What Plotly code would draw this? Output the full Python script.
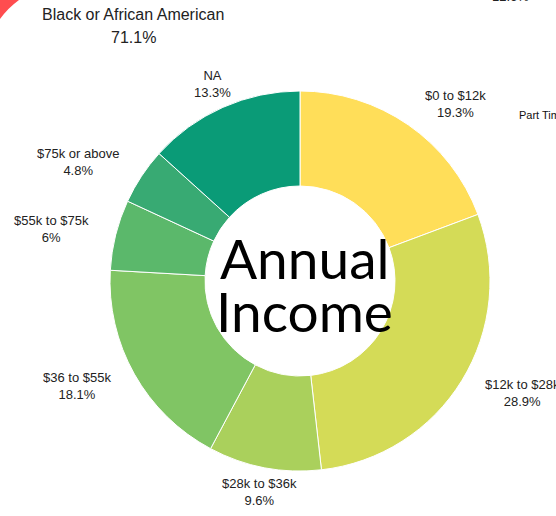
import math
import plotly.graph_objects as go

# Annual income breakdown (share of respondents, %)
categories = ["$0 to $12k", "$12k to $28k", "$28k to $36k", "$36 to $55k",
              "$55k to $75k", "$75k or above", "NA"]
shares = [19.3, 28.9, 9.6, 18.1, 6, 4.8, 13.3]
share_labels = ["19.3%", "28.9%", "9.6%", "18.1%", "6%", "4.8%", "13.3%"]
colors = ["#FFDE59", "#D4DB57", "#AAD05C", "#80C564", "#5BB86B", "#38AA73", "#0A9B77"]

W, H = 556, 516
CX, CY, R = 300, 281, 190      # donut centre and outer radius (px)
LABEL_R = 215                  # radius where outside labels are anchored (px)


def px(x, y):
    """Pixel position -> paper coordinates."""
    return x / W, 1 - y / H


fig = go.Figure(go.Pie(
    labels=categories,
    values=shares,
    hole=0.5,
    sort=False,
    direction="clockwise",
    rotation=0,
    textinfo="none",
    marker=dict(colors=colors, line=dict(color="white", width=1)),
    domain=dict(x=[(CX - R) / W, (CX + R) / W], y=[1 - (CY + R) / H, 1 - (CY - R) / H]),
    showlegend=False,
    hoverinfo="label+percent",
))

annotations = []
label_font = dict(family="Liberation Sans, Arial, sans-serif", size=13, color="#222")

# Outside labels placed at each slice's mid-angle
total = sum(shares)
cum = 0.0
for name, v, pct in zip(categories, shares, share_labels):
    mid = (cum + v / 2) / total * 2 * math.pi
    cum += v
    lx = CX + LABEL_R * math.sin(mid)
    ly = CY - LABEL_R * math.cos(mid)
    s = math.sin(mid)
    if s > 0.5:
        xa = "left"
    elif s < -0.5:
        xa = "right"
    else:
        xa = "center"
    x, y = px(lx, ly)
    annotations.append(dict(x=x, y=y, xref="paper", yref="paper",
                            text=f"{name}<br>{pct}",
                            showarrow=False, xanchor=xa, yanchor="middle",
                            align="center", font=label_font))

# Centre title
title_font = dict(family="Lato, sans-serif", size=55, color="black")
for text, yy in (("Annual", 258), ("Income", 311)):
    x, y = px(CX + 4, yy)
    annotations.append(dict(x=x, y=y, xref="paper", yref="paper", text=text,
                            showarrow=False, xanchor="center", yanchor="middle",
                            font=title_font))

# Neighbouring panels' labels
other_font = dict(family="Liberation Sans, Arial, sans-serif", size=16, color="#222")
for text, xx, yy in (("Black or African American", 133, 14), ("71.1%", 133, 37)):
    x, y = px(xx, yy)
    annotations.append(dict(x=x, y=y, xref="paper", yref="paper", text=text,
                            showarrow=False, xanchor="center", yanchor="middle",
                            font=other_font))
x, y = px(510, -3)
annotations.append(dict(x=x, y=y, xref="paper", yref="paper", text="12.6%",
                        showarrow=False, xanchor="center", yanchor="middle",
                        font=dict(family="Liberation Sans, Arial, sans-serif", size=13, color="#222")))
x, y = px(517, 115)
annotations.append(dict(x=x, y=y, xref="paper", yref="paper", text="Part Time",
                        showarrow=False, xanchor="left", yanchor="middle",
                        font=dict(family="Liberation Sans, Arial, sans-serif", size=11, color="#111")))

# Corner of a neighbouring red slice
p0 = px(0, 0)
p1 = px(19, 0)
pc = px(8, 8)
p2 = px(0, 19)
path = f"M {p0[0]} {p0[1]} L {p1[0]} {p1[1]} Q {pc[0]} {pc[1]} {p2[0]} {p2[1]} Z"
shapes = [dict(type="path", xref="paper", yref="paper", path=path,
               fillcolor="#FF4D4F", line=dict(width=0))]

fig.update_layout(
    width=W, height=H,
    margin=dict(l=0, r=0, t=0, b=0),
    paper_bgcolor="white", plot_bgcolor="white",
    annotations=annotations,
    shapes=shapes,
)

fig.write_html("out.html")
